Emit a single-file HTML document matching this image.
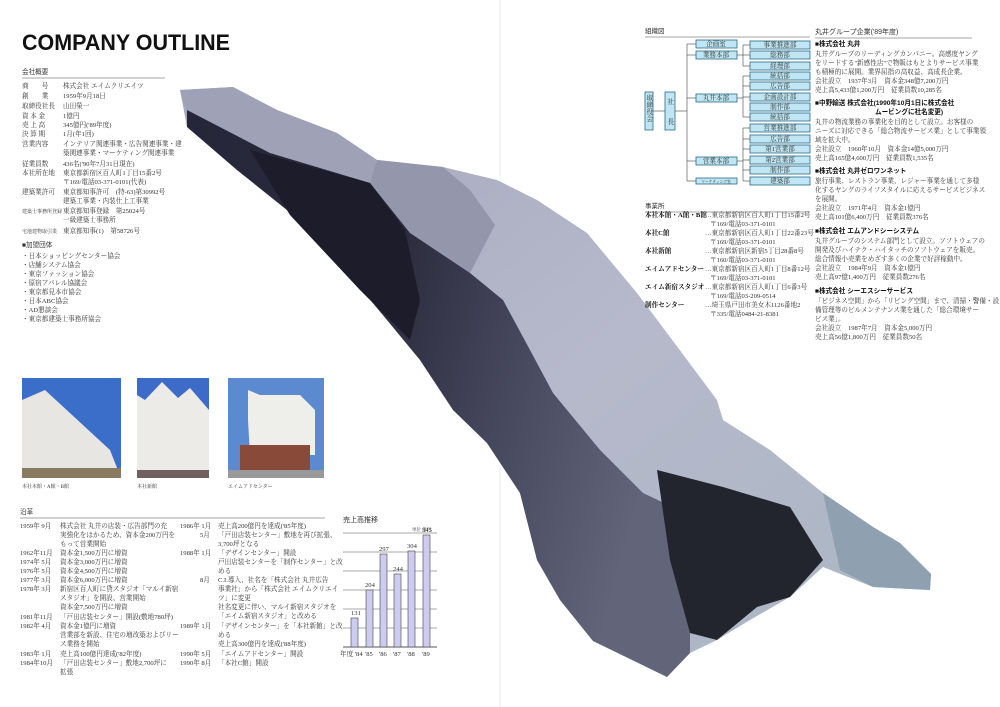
<!DOCTYPE html>
<html><head><meta charset="utf-8"><style>
html,body{margin:0;padding:0;background:#fff;width:1000px;height:707px;overflow:hidden}
svg{display:block}
text{font-family:"Liberation Serif","Noto Serif CJK SC","Noto Sans CJK JP",serif;fill:#333;font-size:6.6px}
.s{font-family:"Liberation Sans","Noto Sans CJK JP",sans-serif}
.b{font-weight:bold;fill:#111}
.ob{fill:#bfe6f2;stroke:#2a6a86;stroke-width:0.8}
.ol{stroke:#444;stroke-width:0.6;fill:none}
</style></head><body>
<svg width="1000" height="707" viewBox="0 0 1000 707" xmlns="http://www.w3.org/2000/svg">
<defs>
<linearGradient id="g1" x1="0" y1="0" x2="1" y2="1">
<stop offset="0" stop-color="#a4a6bc"/><stop offset="0.5" stop-color="#b6b9cb"/><stop offset="1" stop-color="#aab6c4"/>
</linearGradient>
<linearGradient id="g2" x1="0" y1="0" x2="1" y2="0.3">
<stop offset="0" stop-color="#26263a"/><stop offset="0.45" stop-color="#2c2c3e"/><stop offset="0.75" stop-color="#4a4c62"/><stop offset="1" stop-color="#62647a"/>
</linearGradient>
</defs>
<line x1="500" y1="0" x2="500" y2="707" stroke="#eee" stroke-width="1"/>

<!-- mountain -->
<path d="M180,90 L233,87 L277,110 L337,133 L377,160 L443,167 L497,180 L537,200 L587,233 L637,293 L670,337 L717,400 L723,420 L770,450 L823,493 L873,527 L900,543 L931,574 L930,590 L873,587 L823,567 L790,597 L750,620 L717,640 L690,653 L667,677 L593,641 L560,600 L537,560 L520,493 L487,443 L453,410 L420,360 L387,320 L337,260 L287,210 L237,170 L187,127 Z" fill="url(#g1)"/>
<path d="M180,90 L233,87 L277,110 L337,133 L377,160 L370,183 L270,153 L187,110 Z" fill="#9fa1b6"/>
<path d="M377,160 L443,167 L470,190 L495,225 L470,273 L410,233 L370,183 Z" fill="#9496ac"/>
<path d="M187,110 L270,153 L370,183 L410,233 L470,273 L503,300 L530,350 L553,393 L600,450 L643,493 L700,520 L690,560 L690,653 L667,677 L593,641 L560,600 L537,560 L520,493 L487,443 L453,410 L420,360 L387,320 L337,260 L287,210 L237,170 L187,127 Z" fill="url(#g2)"/>
<path d="M250,150 L370,183 L405,230 L420,300 L410,340 L360,290 L290,215 Z" fill="#1c1c2a"/>
<path d="M657,470 L723,487 L790,507 L823,560 L790,597 L757,607 L717,640 L690,633 L670,560 Z" fill="#22242e"/>
<path d="M823,493 L873,527 L900,543 L931,574 L930,590 L873,587 L840,570 Z" fill="#8fa0b0"/>

<!-- title -->
<text x="22" y="50" class="s b" style="font-size:22px" textLength="208" lengthAdjust="spacingAndGlyphs">COMPANY OUTLINE</text>
<text x="22" y="74" class="s">会社概要</text>
<line x1="22" y1="78" x2="165" y2="78" stroke="#888" stroke-width="0.8"/>
<g>
<text x="22" y="88">商　　号</text><text x="63" y="88">株式会社 エイムクリエイツ</text>
<text x="22" y="98">創　　業</text><text x="63" y="98">1959年9月18日</text>
<text x="22" y="108">取締役社長</text><text x="63" y="108">山田榮一</text>
<text x="22" y="118">資 本 金</text><text x="63" y="118">1億円</text>
<text x="22" y="127">売 上 高</text><text x="63" y="127">345億円('89年度)</text>
<text x="22" y="136">決 算 期</text><text x="63" y="136">1月(年1回)</text>
<text x="22" y="146">営業内容</text><text x="63" y="146">インテリア関連事業・広告関連事業・建</text>
<text x="63" y="155">築関連事業・マーケティング関連事業</text>
<text x="22" y="166">従業員数</text><text x="63" y="166">436名('90年7月31日現在)</text>
<text x="22" y="175">本社所在地</text><text x="63" y="175">東京都新宿区百人町1丁目15番2号</text>
<text x="63" y="184">〒169/電話03-371-0101(代表)</text>
<text x="22" y="194">建築業許可</text><text x="63" y="194">東京都知事許可　(特-63)第30992号</text>
<text x="63" y="203">建築工事業・内装仕上工事業</text>
<text x="22" y="213" style="font-size:5px">建築士事務所登録</text><text x="63" y="213">東京都知事登録　第25024号</text>
<text x="63" y="222">一級建築士事務所</text>
<text x="22" y="233" style="font-size:5px">宅地建物取引業</text><text x="63" y="233">東京都知事(1)　第58726号</text>
<text x="22" y="247" class="s">■加盟団体</text>
<text x="22" y="258">・日本ショッピングセンター協会</text>
<text x="22" y="267">・店舗システム協会</text>
<text x="22" y="276">・東京ファッション協会</text>
<text x="22" y="285">・原宿アパレル協議会</text>
<text x="22" y="294">・東京都見本市協会</text>
<text x="22" y="303">・日本ABC協会</text>
<text x="22" y="312">・AD懇談会</text>
<text x="22" y="321">・東京都建築士事務所協会</text>
</g>

<!-- photos -->
<rect x="22" y="378" width="99" height="100" fill="#3a6ec8"/>
<polygon points="22,400 45,390 110,450 121,478 22,478" fill="#e8e6e2"/>
<rect x="22" y="468" width="99" height="10" fill="#8a7a60"/>
<rect x="137" y="378" width="72" height="100" fill="#3c6cc8"/>
<polygon points="145,400 162,382 178,398 190,388 209,410 209,478 137,478 137,395" fill="#ecebe8"/>
<rect x="137" y="470" width="72" height="8" fill="#706060"/>
<rect x="228" y="378" width="96" height="100" fill="#5c8ad0"/>
<polygon points="248,390 260,395 300,395 315,410 315,455 250,455 248,420" fill="#eeeeea"/>
<rect x="240" y="445" width="70" height="33" fill="#8a4a3a"/>
<rect x="228" y="470" width="96" height="8" fill="#999"/>
<text x="22" y="488" style="font-size:5px">本社本館・A館・B館</text>
<text x="137" y="488" style="font-size:5px">本社新館</text>
<text x="228" y="488" style="font-size:5px">エイムアドセンター</text>

<!-- history -->
<text x="20" y="514" class="s">沿革</text>
<line x1="20" y1="518" x2="325" y2="518" stroke="#888" stroke-width="0.8"/>
<g style="font-size:6.3px">
<text x="20" y="528">1959年 9月</text><text x="60" y="528">株式会社 丸井の店装・広告部門の充</text>
<text x="60" y="537">実強化をはかるため、資本金200万円を</text>
<text x="60" y="546">もって営業開始</text>
<text x="20" y="555">1962年11月</text><text x="60" y="555">資本金1,500万円に増資</text>
<text x="20" y="564">1974年 5月</text><text x="60" y="564">資本金3,000万円に増資</text>
<text x="20" y="573">1976年 5月</text><text x="60" y="573">資本金4,500万円に増資</text>
<text x="20" y="582">1977年 3月</text><text x="60" y="582">資本金6,000万円に増資</text>
<text x="20" y="591">1978年 3月</text><text x="60" y="591">新宿区百人町に貸スタジオ「マルイ新宿</text>
<text x="60" y="600">スタジオ」を開設、営業開始</text>
<text x="60" y="609">資本金7,500万円に増資</text>
<text x="20" y="619">1981年11月</text><text x="60" y="619">「戸田店装センター」開設(敷地780坪)</text>
<text x="20" y="628">1982年 4月</text><text x="60" y="628">資本金1億円に増資</text>
<text x="60" y="637">営業部を新設、住宅の増改築およびリー</text>
<text x="60" y="646">ス業務を開始</text>
<text x="20" y="656">1983年 1月</text><text x="60" y="656">売上高100億円達成('82年度)</text>
<text x="20" y="665">1984年10月</text><text x="60" y="665">「戸田店装センター」敷地2,700坪に</text>
<text x="60" y="674">拡張</text>
<text x="180" y="528">1986年 1月</text><text x="218" y="528">売上高200億円を達成('85年度)</text>
<text x="200" y="537">5月</text><text x="218" y="537">「戸田店装センター」敷地を再び拡張、</text>
<text x="218" y="546">3,700坪となる</text>
<text x="180" y="555">1988年 1月</text><text x="218" y="555">「デザインセンター」開設</text>
<text x="218" y="564">戸田店装センターを「制作センター」と改</text>
<text x="218" y="573">める</text>
<text x="200" y="582">8月</text><text x="218" y="582">C.I.導入、社名を「株式会社 丸井広告</text>
<text x="218" y="591">事業社」から「株式会社 エイムクリエイ</text>
<text x="218" y="600">ツ」に変更</text>
<text x="218" y="609">社名変更に伴い、マルイ新宿スタジオを</text>
<text x="218" y="618">「エイム新宿スタジオ」と改める</text>
<text x="180" y="628">1989年 1月</text><text x="218" y="628">「デザインセンター」を「本社新館」と改</text>
<text x="218" y="637">める</text>
<text x="218" y="646">売上高300億円を達成('88年度)</text>
<text x="180" y="656">1990年 5月</text><text x="218" y="656">「エイムアドセンター」開設</text>
<text x="180" y="665">1990年 8月</text><text x="218" y="665">「本社C館」開設</text>
</g>

<!-- chart -->
<text x="343" y="522" class="s" style="font-size:7px">売上高推移</text>
<text x="412" y="531" style="font-size:4.5px">単位 億円</text>
<g stroke="#555" stroke-width="0.6">
<line x1="343" y1="533" x2="437" y2="533"/><line x1="343" y1="552" x2="437" y2="552"/>
<line x1="343" y1="571" x2="437" y2="571"/><line x1="343" y1="590" x2="437" y2="590"/>
<line x1="343" y1="609" x2="437" y2="609"/><line x1="343" y1="628" x2="437" y2="628"/>
<line x1="343" y1="647" x2="437" y2="647" stroke-width="0.9"/>
</g>
<g fill="#ccccf0" stroke="#444" stroke-width="0.6">
<rect x="351" y="618" width="7" height="29"/><rect x="366" y="590" width="7" height="57"/>
<rect x="380" y="554" width="7" height="93"/><rect x="394" y="574" width="7" height="73"/>
<rect x="408" y="551" width="7" height="96"/><rect x="423" y="535" width="7" height="112"/>
</g>
<g style="font-size:4.8px">
<text x="351" y="615">131</text><text x="365" y="587">204</text><text x="379" y="551">297</text>
<text x="393" y="571">244</text><text x="407" y="548">304</text><text x="422" y="532">345</text>
<text x="340" y="656">年度 '84</text><text x="365" y="656">'85</text><text x="379" y="656">'86</text>
<text x="393" y="656">'87</text><text x="407" y="656">'88</text><text x="422" y="656">'89</text>
</g>

<!-- org chart -->
<text x="645" y="33" class="s" style="font-size:6.5px">組織図</text>
<line x1="645" y1="37" x2="810" y2="37" stroke="#888" stroke-width="0.8"/>
<g class="ol">
<line x1="653" y1="111" x2="665" y2="111"/>
<line x1="675" y1="111" x2="687" y2="111"/>
<line x1="687" y1="44" x2="687" y2="181"/>
<line x1="687" y1="44" x2="696" y2="44"/><line x1="687" y1="55" x2="696" y2="55"/>
<line x1="687" y1="98" x2="696" y2="98"/><line x1="687" y1="161" x2="696" y2="161"/><line x1="687" y1="181" x2="696" y2="181"/>
<line x1="737" y1="55" x2="743" y2="55"/><line x1="743" y1="45" x2="743" y2="66"/>
<line x1="743" y1="45" x2="750" y2="45"/><line x1="743" y1="55" x2="750" y2="55"/><line x1="743" y1="66" x2="750" y2="66"/>
<line x1="737" y1="98" x2="743" y2="98"/><line x1="743" y1="76" x2="743" y2="117"/>
<line x1="743" y1="76" x2="750" y2="76"/><line x1="743" y1="86" x2="750" y2="86"/><line x1="743" y1="97" x2="750" y2="97"/><line x1="743" y1="117" x2="750" y2="117"/>
<line x1="737" y1="161" x2="743" y2="161"/><line x1="743" y1="128" x2="743" y2="181"/>
<line x1="743" y1="128" x2="750" y2="128"/><line x1="743" y1="139" x2="750" y2="139"/><line x1="743" y1="149" x2="750" y2="149"/>
<line x1="743" y1="160" x2="750" y2="160"/><line x1="743" y1="170" x2="750" y2="170"/><line x1="743" y1="181" x2="750" y2="181"/>
</g>
<rect class="ob" x="645" y="92" width="8" height="38"/>
<rect class="ob" x="665" y="92" width="10" height="38"/>
<g style="font-size:5px" class="s">
<text x="646.5" y="100">取</text><text x="646.5" y="107">締</text><text x="646.5" y="114">役</text><text x="646.5" y="121">会</text>
<text x="667.5" y="104">社</text><text x="667.5" y="124">長</text>
</g>
<g>
<rect class="ob" x="696" y="40" width="41" height="8"/><rect class="ob" x="696" y="51" width="41" height="8"/>
<rect class="ob" x="696" y="94" width="41" height="8"/><rect class="ob" x="696" y="157" width="41" height="8"/>
<rect class="ob" x="696" y="178" width="41" height="6"/>
</g>
<g class="s" style="font-size:5px" text-anchor="middle">
<text x="716" y="46">企画室</text><text x="716" y="57">業務本部</text><text x="716" y="100">丸井本部</text>
<text x="716" y="163">営業本部</text><text x="716" y="183" style="font-size:3.8px">マーケティング室</text>
</g>
<g>
<rect class="ob" x="750" y="41" width="60" height="8"/><rect class="ob" x="750" y="51" width="60" height="8"/>
<rect class="ob" x="750" y="62" width="60" height="8"/><rect class="ob" x="750" y="72" width="60" height="8"/>
<rect class="ob" x="750" y="82" width="60" height="8"/><rect class="ob" x="750" y="93" width="60" height="8"/>
<rect class="ob" x="750" y="103" width="60" height="8"/><rect class="ob" x="750" y="113" width="60" height="8"/>
<rect class="ob" x="750" y="124" width="60" height="8"/><rect class="ob" x="750" y="135" width="60" height="8"/>
<rect class="ob" x="750" y="145" width="60" height="8"/><rect class="ob" x="750" y="156" width="60" height="8"/>
<rect class="ob" x="750" y="166" width="60" height="8"/><rect class="ob" x="750" y="177" width="60" height="8"/>
</g>
<g class="s" style="font-size:5px" text-anchor="middle">
<text x="780" y="47">事業推進部</text><text x="780" y="57">総務部</text><text x="780" y="68">経理部</text>
<text x="780" y="78">統括部</text><text x="780" y="88">広告部</text><text x="780" y="99">企画設計部</text>
<text x="780" y="109">制作部</text><text x="780" y="119">統括部</text><text x="780" y="130">営業推進部</text>
<text x="780" y="141">広告部</text><text x="780" y="151">第1営業部</text><text x="780" y="162">第2営業部</text>
<text x="780" y="172">制作部</text><text x="780" y="183">建築部</text>
</g>

<!-- offices -->
<text x="645" y="208" class="s" style="font-size:6.5px">事業所</text>
<line x1="645" y1="212" x2="810" y2="212" stroke="#888" stroke-width="0.8"/>
<g class="s" style="font-size:5.3px">
<text x="645" y="217" class="b">本社本館・A館・B館</text><text x="705" y="217">…東京都新宿区百人町1丁目15番2号</text><text x="710" y="226">〒169/電話03-371-0101</text>
<text x="645" y="235" class="b">本社C館</text><text x="705" y="235">…東京都新宿区百人町1丁目22番23号</text><text x="710" y="244">〒169/電話03-371-0101</text>
<text x="645" y="253" class="b">本社新館</text><text x="705" y="253">…東京都新宿区新宿5丁目28番8号</text><text x="710" y="262">〒160/電話03-371-0101</text>
<text x="645" y="271" class="b">エイムアドセンター</text><text x="705" y="271">…東京都新宿区百人町1丁目8番12号</text><text x="710" y="280">〒169/電話03-371-0101</text>
<text x="645" y="289" class="b">エイム新宿スタジオ</text><text x="705" y="289">…東京都新宿区百人町1丁目6番3号</text><text x="710" y="298">〒169/電話03-209-0514</text>
<text x="645" y="307" class="b">制作センター</text><text x="705" y="307">…埼玉県戸田市美女木1126番地2</text><text x="710" y="316">〒335/電話0484-21-8381</text>
</g>

<!-- group companies -->
<text x="815" y="34" class="s" style="font-size:7px">丸井グループ企業('89年度)</text>
<line x1="815" y1="38" x2="972" y2="38" stroke="#888" stroke-width="0.8"/>
<g style="font-size:6px">
<text x="815" y="46" class="s b">■株式会社 丸井</text>
<text x="815" y="56">丸井グループのリーディングカンパニー。高感度ヤング</text>
<text x="815" y="65">をリードする"新感性店"で物販はもとよりサービス事業</text>
<text x="815" y="74">も積極的に展開。業界屈指の高収益、高成長企業。</text>
<text x="815" y="83">会社設立　1937年3月　資本金348億7,200万円</text>
<text x="815" y="92">売上高5,433億1,200万円　従業員数10,285名</text>
<text x="815" y="105" class="s b">■中野輸送 株式会社(1990年10月1日に株式会社</text>
<text x="875" y="114" class="s b">ムービングに社名変更)</text>
<text x="815" y="124">丸井の物流業務の事業化を目的として設立。お客様の</text>
<text x="815" y="133">ニーズに対応できる「総合物流サービス業」として事業領</text>
<text x="815" y="142">域を拡大中。</text>
<text x="815" y="151">会社設立　1960年10月　資本金14億5,000万円</text>
<text x="815" y="160">売上高165億4,600万円　従業員数1,535名</text>
<text x="815" y="173" class="s b">■株式会社 丸井ゼロワンネット</text>
<text x="815" y="183">旅行事業、レストラン事業、レジャー事業を通して多様</text>
<text x="815" y="192">化するヤングのライフスタイルに応えるサービスビジネス</text>
<text x="815" y="201">を展開。</text>
<text x="815" y="210">会社設立　1971年4月　資本金1億円</text>
<text x="815" y="219">売上高101億6,400万円　従業員数376名</text>
<text x="815" y="233" class="s b">■株式会社 エムアンドシーシステム</text>
<text x="815" y="243">丸井グループのシステム部門として設立。ソフトウェアの</text>
<text x="815" y="252">開発及びハイテク・ハイタッチのソフトウェアを販売。</text>
<text x="815" y="261">総合情報小売業をめざす多くの企業で好評稼動中。</text>
<text x="815" y="270">会社設立　1984年9月　資本金1億円</text>
<text x="815" y="279">売上高97億1,400万円　従業員数276名</text>
<text x="815" y="293" class="s b">■株式会社 シーエスシーサービス</text>
<text x="815" y="303">「ビジネス空間」から「リビング空間」まで、清掃・警備・設</text>
<text x="815" y="312">備管理等のビルメンテナンス業を通した「総合環境サー</text>
<text x="815" y="321">ビス業」。</text>
<text x="815" y="330">会社設立　1987年7月　資本金5,000万円</text>
<text x="815" y="339">売上高56億1,800万円　従業員数50名</text>
</g>
</svg>
</body></html>
